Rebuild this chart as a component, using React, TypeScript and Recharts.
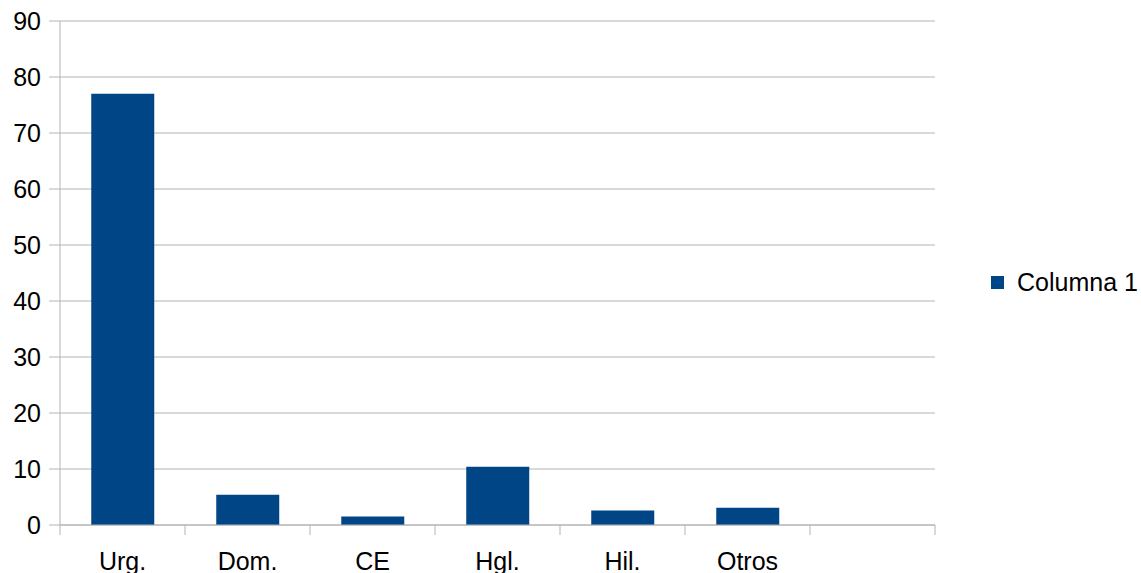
import { BarChart, Bar, XAxis, YAxis, CartesianGrid, Legend } from "recharts";

const categories = ["Urg.", "Dom.", "CE", "Hgl.", "Hil.", "Otros", ""];
const values = [77.0, 5.4, 1.5, 10.4, 2.6, 3.1, null];
const yTicks = [0, 10, 20, 30, 40, 50, 60, 70, 80, 90];
const seriesName = "Columna 1";

const data = categories.map((c, i) => ({ name: c, value: values[i] }));

const GRID = "#b3b3b3";
const BLUE = "#004586";
const FONT = "'Liberation Sans', Arial, sans-serif";
const FONT_SIZE = 25;

const TICK_SIZE = 10;
const TICK_MARGIN = 17;

// label in the middle of each band, tick marks on the band edges
function BandTick(props: any) {
  const { x, y, payload, index, visibleTicksCount } = props;
  const half = payload?.offset || 62.5;
  const axisY = y - TICK_SIZE - TICK_MARGIN;
  const last = index === (visibleTicksCount ?? categories.length) - 1;
  return (
    <g>
      <line x1={x - half} x2={x - half} y1={axisY} y2={axisY + TICK_SIZE} stroke={GRID} />
      {last && <line x1={x + half} x2={x + half} y1={axisY} y2={axisY + TICK_SIZE} stroke={GRID} />}
      <text x={x} y={y} dy="0.71em" textAnchor="middle" fill="#000" fontSize={FONT_SIZE} fontFamily={FONT}>
        {payload.value}
      </text>
    </g>
  );
}

function LegendBox() {
  return (
    <div style={{ display: "flex", alignItems: "center", fontFamily: FONT, fontSize: FONT_SIZE, color: "#000", whiteSpace: "nowrap" }}>
      <span style={{ width: 13, height: 13, background: BLUE, display: "inline-block", marginRight: 13 }} />
      <span>{seriesName}</span>
    </div>
  );
}

export default function App() {
  return (
    <div style={{ position: "absolute", left: 0, top: 0, background: "#fff" }}>
      <BarChart
        width={1141}
        height={573}
        data={data}
        margin={{ top: 21, right: 206, left: 0, bottom: 0 }}
        barCategoryGap="25%"
      >
        <CartesianGrid horizontal vertical={false} stroke={GRID} yAxisId="left" />
        <XAxis
          dataKey="name"
          interval={0}
          height={48}
          axisLine={{ stroke: GRID }}
          tickLine={false}
          tickSize={TICK_SIZE}
          tickMargin={TICK_MARGIN}
          tick={<BandTick />}
        />
        <YAxis
          yAxisId="left"
          domain={[0, 90]}
          ticks={yTicks}
          interval={0}
          width={60}
          axisLine={{ stroke: GRID }}
          tickLine={{ stroke: GRID }}
          tickSize={11}
          tickMargin={8}
          tick={{ fill: "#000", fontSize: FONT_SIZE, fontFamily: FONT }}
        />
        <YAxis
          yAxisId="right"
          orientation="right"
          domain={[0, 90]}
          width={0}
          tick={false}
          tickLine={false}
          axisLine={{ stroke: GRID }}
        />
        <Legend
          layout="vertical"
          align="center"
          verticalAlign="middle"
          content={<LegendBox />}
          wrapperStyle={{ left: 991, top: 268, width: 150 }}
        />
        <Bar yAxisId="left" dataKey="value" name={seriesName} fill={BLUE} isAnimationActive={false} />
      </BarChart>
    </div>
  );
}
